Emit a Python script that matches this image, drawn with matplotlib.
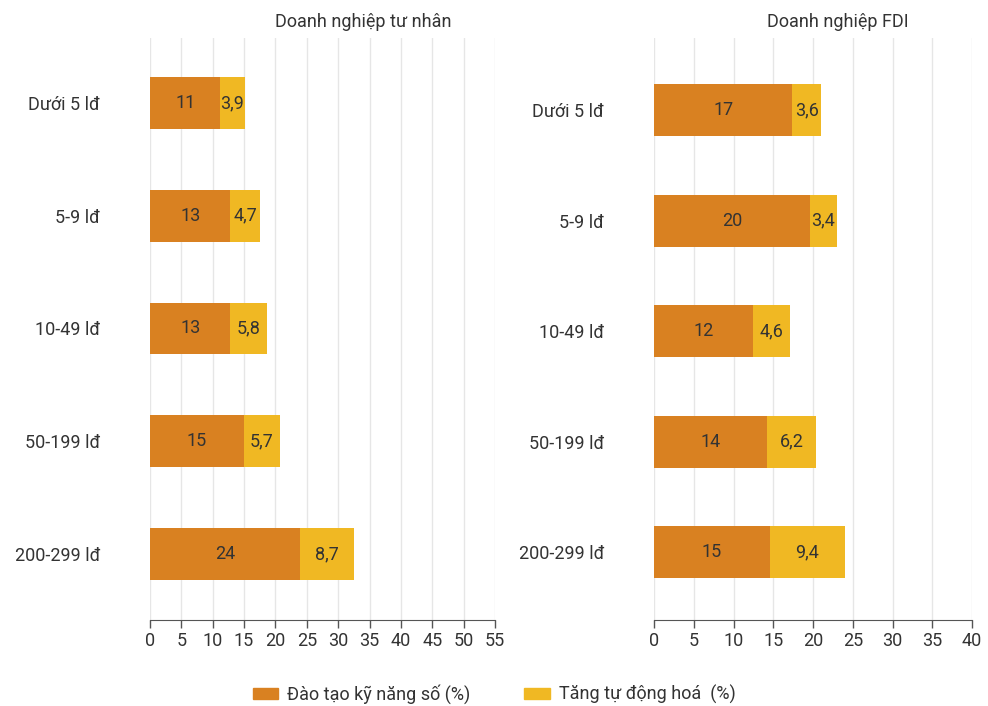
import matplotlib.pyplot as plt
from matplotlib.patches import Patch

plt.rcParams['font.family'] = ['Roboto', 'DejaVu Sans']

nhom = ["Dưới 5 lđ", "5-9 lđ", "10-49 lđ", "50-199 lđ", "200-299 lđ"]

# Doanh nghiệp tư nhân
tn_daotao = [11.2, 12.8, 12.8, 15.0, 23.9]
tn_tudong = [3.9, 4.7, 5.8, 5.7, 8.7]

# Doanh nghiệp FDI
fdi_daotao = [17.4, 19.6, 12.5, 14.2, 14.6]
fdi_tudong = [3.6, 3.4, 4.6, 6.2, 9.4]

cam = "#D98121"
vang = "#F0B823"
chu = "#333333"
co = 13

fig = plt.figure(figsize=(9.88, 7.06), dpi=100)
ax1 = fig.add_axes([150/988, 86/706, 345/988, 582/706])
ax2 = fig.add_axes([654/988, 86/706, 318/988, 582/706])


def ve(ax, daotao, tudong, xmax, ylim, h):
    y = range(len(nhom))
    ax.barh(y, daotao, height=h, color=cam, zorder=2)
    ax.barh(y, tudong, left=daotao, height=h, color=vang, zorder=2)
    for i in y:
        ax.text(daotao[i] / 2, i, f"{daotao[i]:.0f}", ha="center", va="center",
                fontsize=co, color=chu, zorder=3)
        ax.text(daotao[i] + tudong[i] / 2, i, f"{tudong[i]:.1f}".replace(".", ","),
                ha="center", va="center", fontsize=co, color=chu, zorder=3)
    ax.set_xlim(0, xmax)
    ax.set_xticks(range(0, xmax + 1, 5))
    ax.set_ylim(*ylim)
    ax.set_yticks(list(y))
    ax.set_yticklabels(nhom)
    ax.tick_params(axis="y", length=0, pad=36, labelsize=co, labelcolor=chu)
    ax.tick_params(axis="x", length=6, width=1, color="#555555", labelsize=co,
                   labelcolor=chu, pad=3)
    ax.grid(axis="x", color="#e6e6e6", linewidth=1, zorder=0)
    for s in ["left", "right", "top"]:
        ax.spines[s].set_visible(False)
    ax.spines["bottom"].set_color("#555555")


ve(ax1, tn_daotao, tn_tudong, 55, (4.585, -0.576), 0.46)
ve(ax2, fdi_daotao, fdi_tudong, 40, (4.615, -0.652), 0.47)

fig.text(363/988, 1 - 22/706, "Doanh nghiệp tư nhân", ha="center", va="center",
         fontsize=co, color=chu)
fig.text(838/988, 1 - 22/706, "Doanh nghiệp FDI", ha="center", va="center",
         fontsize=co, color=chu)

handles = [Patch(color=cam, label="Đào tạo kỹ năng số (%)"),
           Patch(color=vang, label="Tăng tự động hoá  (%)")]
fig.legend(handles=handles, loc="center", bbox_to_anchor=(0.5, 1 - 694/706), ncol=2,
           frameon=False, fontsize=co, handlelength=1.4, handleheight=0.6,
           handletextpad=0.5, columnspacing=3.0, labelcolor=chu)

fig.savefig("out.png", dpi=100)
